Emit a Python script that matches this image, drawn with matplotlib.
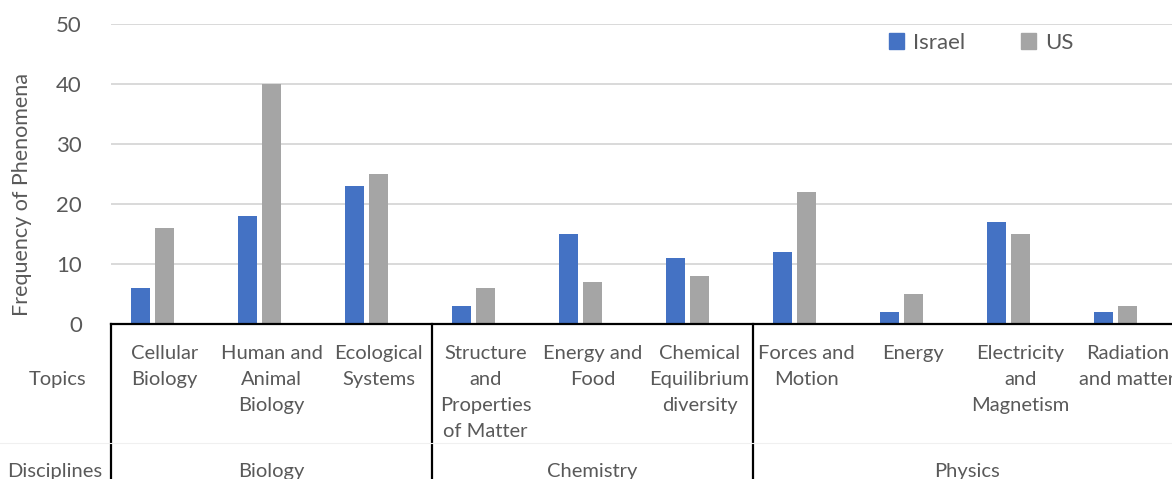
import numpy as np
import matplotlib.pyplot as plt
from matplotlib.patches import Patch

plt.rcParams['font.family'] = ['Lato', 'DejaVu Sans']

# topics (x categories), grouped by discipline
topics = ['Cellular\nBiology', 'Human and\nAnimal\nBiology', 'Ecological\nSystems',
          'Structure\nand\nProperties\nof Matter', 'Energy and\nFood',
          'Chemical\nEquilibrium\ndiversity', 'Forces and\nMotion', 'Energy',
          'Electricity\nand\nMagnetism', 'Radiation\nand matter']
disciplines = ['Biology', 'Chemistry', 'Physics']
disc_sizes = [3, 3, 4]

israel = [6, 18, 23, 3, 15, 11, 12, 2, 17, 2]
us = [16, 40, 25, 6, 7, 8, 22, 5, 15, 3]

blue = '#4472C4'
grey = '#A5A5A5'
txt = '#595959'

W, H = 1172, 479
fig = plt.figure(figsize=(W / 100, H / 100), dpi=100)
# plot area: x 111..1181 px, y 24..324 px
ax = fig.add_axes([111 / W, 1 - 324 / H, 1070 / W, 300 / H])

x = np.arange(len(topics))
bw = 0.178
step = 0.224
ax.bar(x - step, israel, bw, color=blue, label='Israel', zorder=3)
ax.bar(x, us, bw, color=grey, label='US', zorder=3)

ax.set_xlim(-0.5, len(topics) - 0.5)
ax.set_ylim(0, 50)
ax.set_yticks(range(0, 51, 10))
ax.set_xticks([])
ax.tick_params(axis='y', length=0, pad=21, labelsize=16, labelcolor=txt)
ax.grid(axis='y', color='#D9D9D9', lw=1.4, zorder=0)
for s in ['left', 'right', 'top']:
    ax.spines[s].set_visible(False)
ax.spines['bottom'].set_color('black')
ax.spines['bottom'].set_linewidth(1.6)
ax.spines['bottom'].set_zorder(4)

# category table under the axis
tr = ax.get_xaxis_transform()
px = 1 / 300.0
bounds = np.concatenate([[0], np.cumsum(disc_sizes)]) - 0.5
for b in bounds:
    ax.plot([b, b], [0, -160 * px], color='black', lw=1.6, transform=tr, clip_on=False)
fig.add_artist(plt.Line2D([0, 1], [1 - 443 / H, 1 - 443 / H], color='#F0F0F0', lw=0.8))

for i, t in enumerate(topics):
    ax.text(i, -21 * px, t, transform=tr, ha='center', va='top', fontsize=14.5,
            color=txt, linespacing=1.65, clip_on=False)
for k, d in enumerate(disciplines):
    mid = (bounds[k] + bounds[k + 1]) / 2
    ax.text(mid, -148 * px, d, transform=tr, ha='center', va='center', fontsize=14.5,
            color=txt, clip_on=False)

fig.text(58 / W, 1 - 379 / H, 'Topics', ha='center', va='center', fontsize=14.5, color=txt)
fig.text(55 / W, 1 - 472 / H, 'Disciplines', ha='center', va='center', fontsize=14.5, color=txt)
fig.text(22 / W, 1 - 194 / H, 'Frequency of Phenomena', rotation=90, ha='center',
         va='center', fontsize=15.5, color=txt)

handles = [Patch(color=blue, label='Israel'), Patch(color=grey, label='US')]
leg = fig.legend(handles=handles, loc='center', bbox_to_anchor=(981 / W, 1 - 43 / H),
                 ncol=2, frameon=False, fontsize=16, handlelength=0.7, handleheight=0.7,
                 handletextpad=0.4, columnspacing=2.5)
for t in leg.get_texts():
    t.set_color(txt)

fig.savefig('out.png', dpi=100)
